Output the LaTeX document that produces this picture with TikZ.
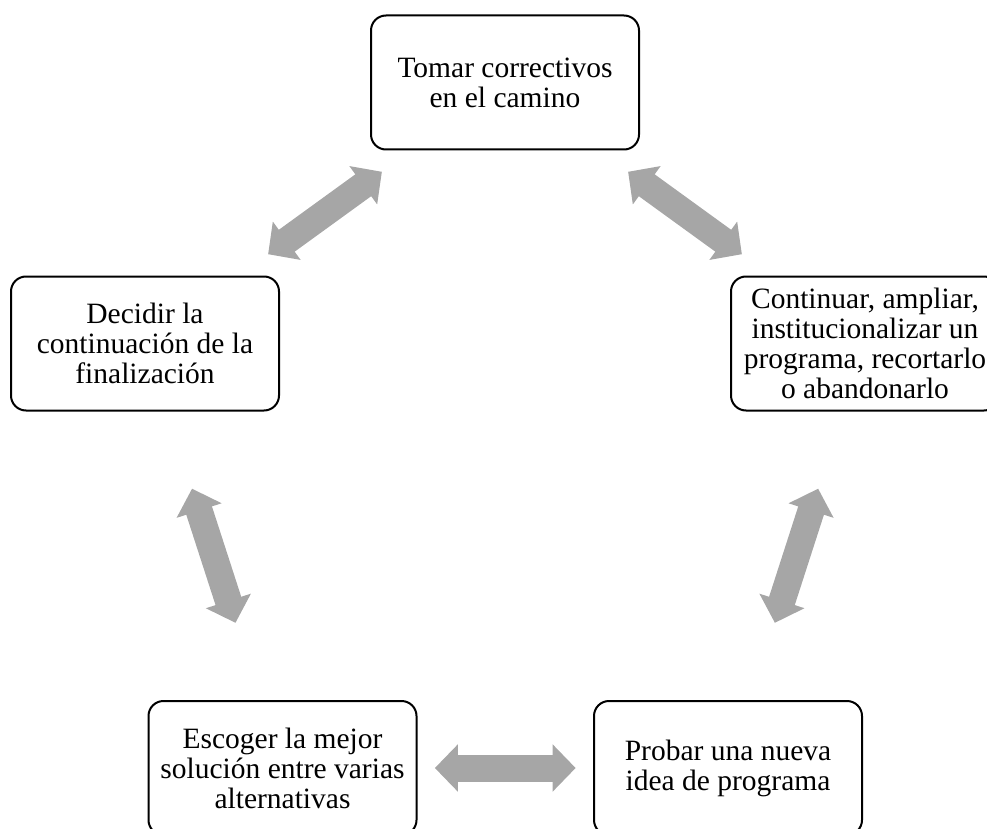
\documentclass[tikz,border=0pt]{standalone}
\usepackage{fontspec}
\setmainfont{Liberation Serif}
\usetikzlibrary{arrows.meta,calc}
\definecolor{gris}{RGB}{166,166,166}

\begin{document}
\begin{tikzpicture}[x=1pt,y=-1pt,every node/.style={draw=black,line width=2pt,rounded corners=15pt,minimum width=268pt,minimum height=134pt,align=center,font=\fontsize{29.5}{30}\selectfont},flecha/.style={gris,line width=27pt,{Triangle[width=46pt,length=23pt]}-{Triangle[width=46pt,length=23pt]}}]

			\clip (0,0) rectangle (987,829);

			\node (n1) at (505,82.5) {Tomar correctivos\\en el camino};
			\node (n2) at (145,343.5) {Decidir la\\continuación de la\\finalización};
			\node (n3) at (865,343.5) {Continuar, ampliar,\\institucionalizar un\\programa, recortarlo\\o abandonarlo};
			\node (n4) at (282.5,768) {Escoger la mejor\\solución entre varias\\alternativas};
			\node (n5) at (728,768) {Probar una nueva\\idea de programa};

			\draw[flecha] ($(n1)!.342!(n2)$) -- ($(n1)!.658!(n2)$);
			\draw[flecha] ($(n1)!.342!(n3)$) -- ($(n1)!.658!(n3)$);
			\draw[flecha] ($(n2)!.342!(n4)$) -- ($(n2)!.658!(n4)$);
			\draw[flecha] ($(n3)!.342!(n5)$) -- ($(n3)!.658!(n5)$);
			\draw[flecha] ($(n4)!.342!(n5)$) -- ($(n4)!.658!(n5)$);
		\end{tikzpicture}
\end{document}
